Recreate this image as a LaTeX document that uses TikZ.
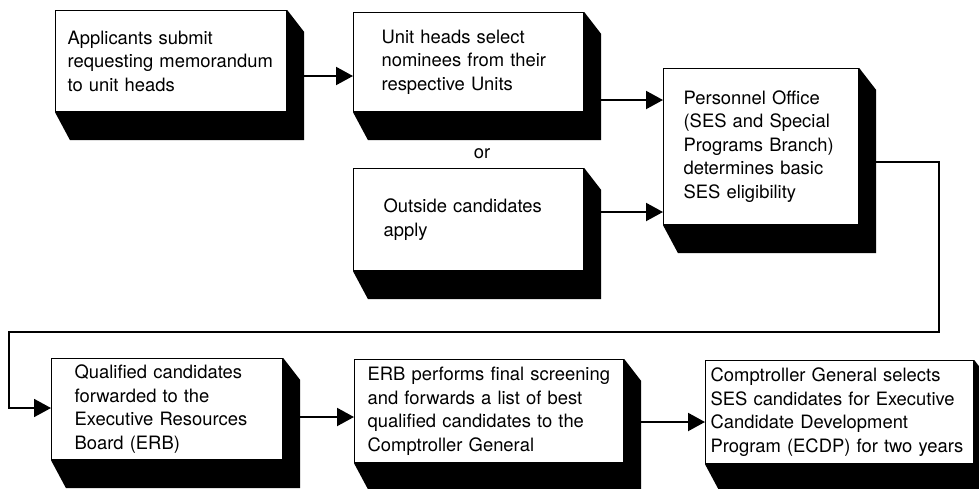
\documentclass[tikz,border=0pt]{standalone}
\usepackage{fontspec}
\setmainfont{TeX Gyre Heros}
\usetikzlibrary{arrows.meta,backgrounds}

\tikzset{
  stage/.style={draw, fill=white, line width=1.2pt, anchor=north west,
    align=left, inner ysep=0pt, font=\fontsize{18.4}{23.5}\selectfont},
  flow/.style={line width=2pt, -{Triangle[length=17pt,width=18pt]}},
  loopback/.style={line width=1.8pt, -{Triangle[length=17pt,width=18pt]}},
}
% black extruded drop below and right of a stage
\newcommand{\drop}[1]{\fill (#1.north east) -- ++(17,22) -- ([shift={(17,28)}]#1.south east) -- ([shift={(15,28)}]#1.south west) -- (#1.south west) -- cycle;}

\begin{document}
\begin{tikzpicture}[x=1pt,y=-1pt]
\useasboundingbox (0,0) rectangle (979,488);

% top row
\node[stage, minimum width=231pt, minimum height=101pt, text width=207pt, inner xsep=12pt] (app) at (55,10)
  {Applicants submit\\requesting memorandum\\to unit heads};
\node[stage, minimum width=230pt, minimum height=99pt, text width=174pt, inner xsep=28pt] (unit) at (353,12)
  {Unit heads select\\nominees from their\\respective Units};
\node (or) at (482,154) {\fontsize{18.4}{23.5}\selectfont or};
\node[stage, minimum width=230pt, minimum height=102pt, text width=170pt, inner xsep=30pt] (outs) at (353,168)
  {Outside candidates\\apply};
\node[stage, minimum width=195pt, minimum height=156pt, text width=155pt, inner xsep=20pt] (pers) at (663,68)
  {Personnel Office\\(SES and Special\\Programs Branch)\\determines basic\\SES eligibility};

% bottom row
\node[stage, minimum width=231pt, minimum height=101pt, text width=185pt, inner xsep=23pt] (qual) at (51,358)
  {Qualified candidates\\forwarded to the\\Executive Resources\\Board (ERB)};
\node[stage, minimum width=269pt, minimum height=103pt, text width=243pt, inner xsep=13pt] (erb) at (354,359)
  {ERB performs final screening\\and forwards a list of best\\qualified candidates to the\\Comptroller General};
\node[stage, minimum width=268pt, minimum height=103pt, text width=258pt, inner xsep=5pt] (comp) at (705,360)
  {Comptroller General selects\\SES candidates for Executive\\Candidate Development\\Program (ECDP) for two years};

\begin{scope}[on background layer]
\foreach \n in {app,unit,outs,pers,qual,erb,comp} {\drop{\n}}
\end{scope}

% arrow heights
\coordinate (r1) at (0,76);
\coordinate (r2) at (0,100);
\coordinate (r3) at (0,212);
\coordinate (r4) at (0,162);
\coordinate (r5) at (0,417);
\coordinate (r6) at (0,422);

\draw[flow] ([xshift=17pt]app.east |- r1) -- (unit.west |- r1);
\draw[flow] ([xshift=17pt]unit.east |- r2) -- (pers.west |- r2);
\draw[flow] ([xshift=17pt]outs.east |- r3) -- (pers.west |- r3);
\draw[loopback] ([xshift=17pt]pers.east |- r4) -| (939,332) -| (9,408) -- (qual.west |- 0,408);
\draw[flow] ([xshift=17pt]qual.east |- r5) -- (erb.west |- r5);
\draw[flow] ([xshift=17pt]erb.east |- r6) -- (comp.west |- r6);
\end{tikzpicture}
\end{document}
